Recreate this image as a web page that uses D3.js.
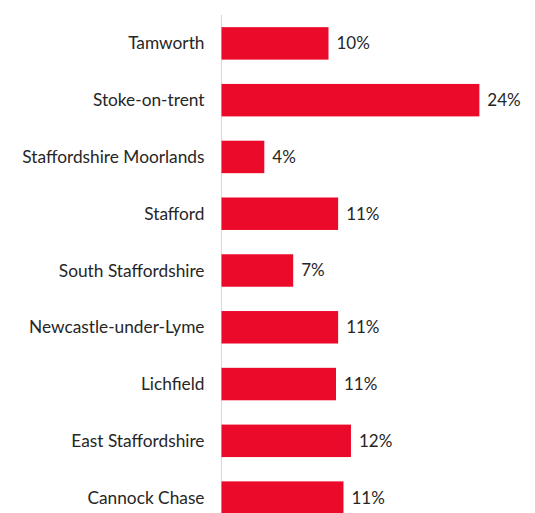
<!DOCTYPE html>
<html><head><meta charset="utf-8">
<script src="https://cdn.jsdelivr.net/npm/d3@7"></script>
<style>body{margin:0;background:#fff;} svg{display:block;}</style>
</head><body>
<script>
const categories = ["Tamworth","Stoke-on-trent","Staffordshire Moorlands","Stafford","South Staffordshire","Newcastle-under-Lyme","Lichfield","East Staffordshire","Cannock Chase"];
const values = [10.0, 24.1, 4.0, 10.9, 6.7, 10.9, 10.7, 12.1, 11.4];

const W = 535, H = 513;
const svg = d3.select("body").append("svg").attr("width", W).attr("height", H);

const x = d3.scaleLinear().domain([0, 25]).range([221.5, 489]);
const y = d3.scaleBand().domain(categories).range([15, 526]).paddingInner(0.428).paddingOuter(0.214);

svg.append("line").attr("x1", x(0)).attr("x2", x(0)).attr("y1", 15).attr("y2", H)
  .attr("stroke", "#d9d9d9").attr("stroke-width", 1);

const data = categories.map((c, i) => ({c, v: values[i]}));

svg.selectAll("rect.bar").data(data).join("rect").attr("class","bar")
  .attr("x", x(0)).attr("y", d => y(d.c))
  .attr("width", d => x(d.v) - x(0)).attr("height", y.bandwidth())
  .attr("fill", "#EC0A2B");

svg.selectAll("text.val").data(data).join("text").attr("class","val")
  .attr("x", d => x(d.v) + 8).attr("y", d => y(d.c) + y.bandwidth()/2)
  .attr("dy", "0.35em")
  .attr("font-family", "Lato, 'Open Sans', sans-serif").attr("font-size", 17)
  .attr("fill", "#262626")
  .text(d => d3.format(".0f")(d.v) + "%");

svg.selectAll("text.cat").data(data).join("text").attr("class","cat")
  .attr("x", x(0) - 17).attr("y", d => y(d.c) + y.bandwidth()/2)
  .attr("dy", "0.35em").attr("text-anchor", "end")
  .attr("font-family", "Lato, 'Open Sans', sans-serif").attr("font-size", 17.3)
  .attr("fill", "#262626")
  .text(d => d.c);
</script>
</body></html>
